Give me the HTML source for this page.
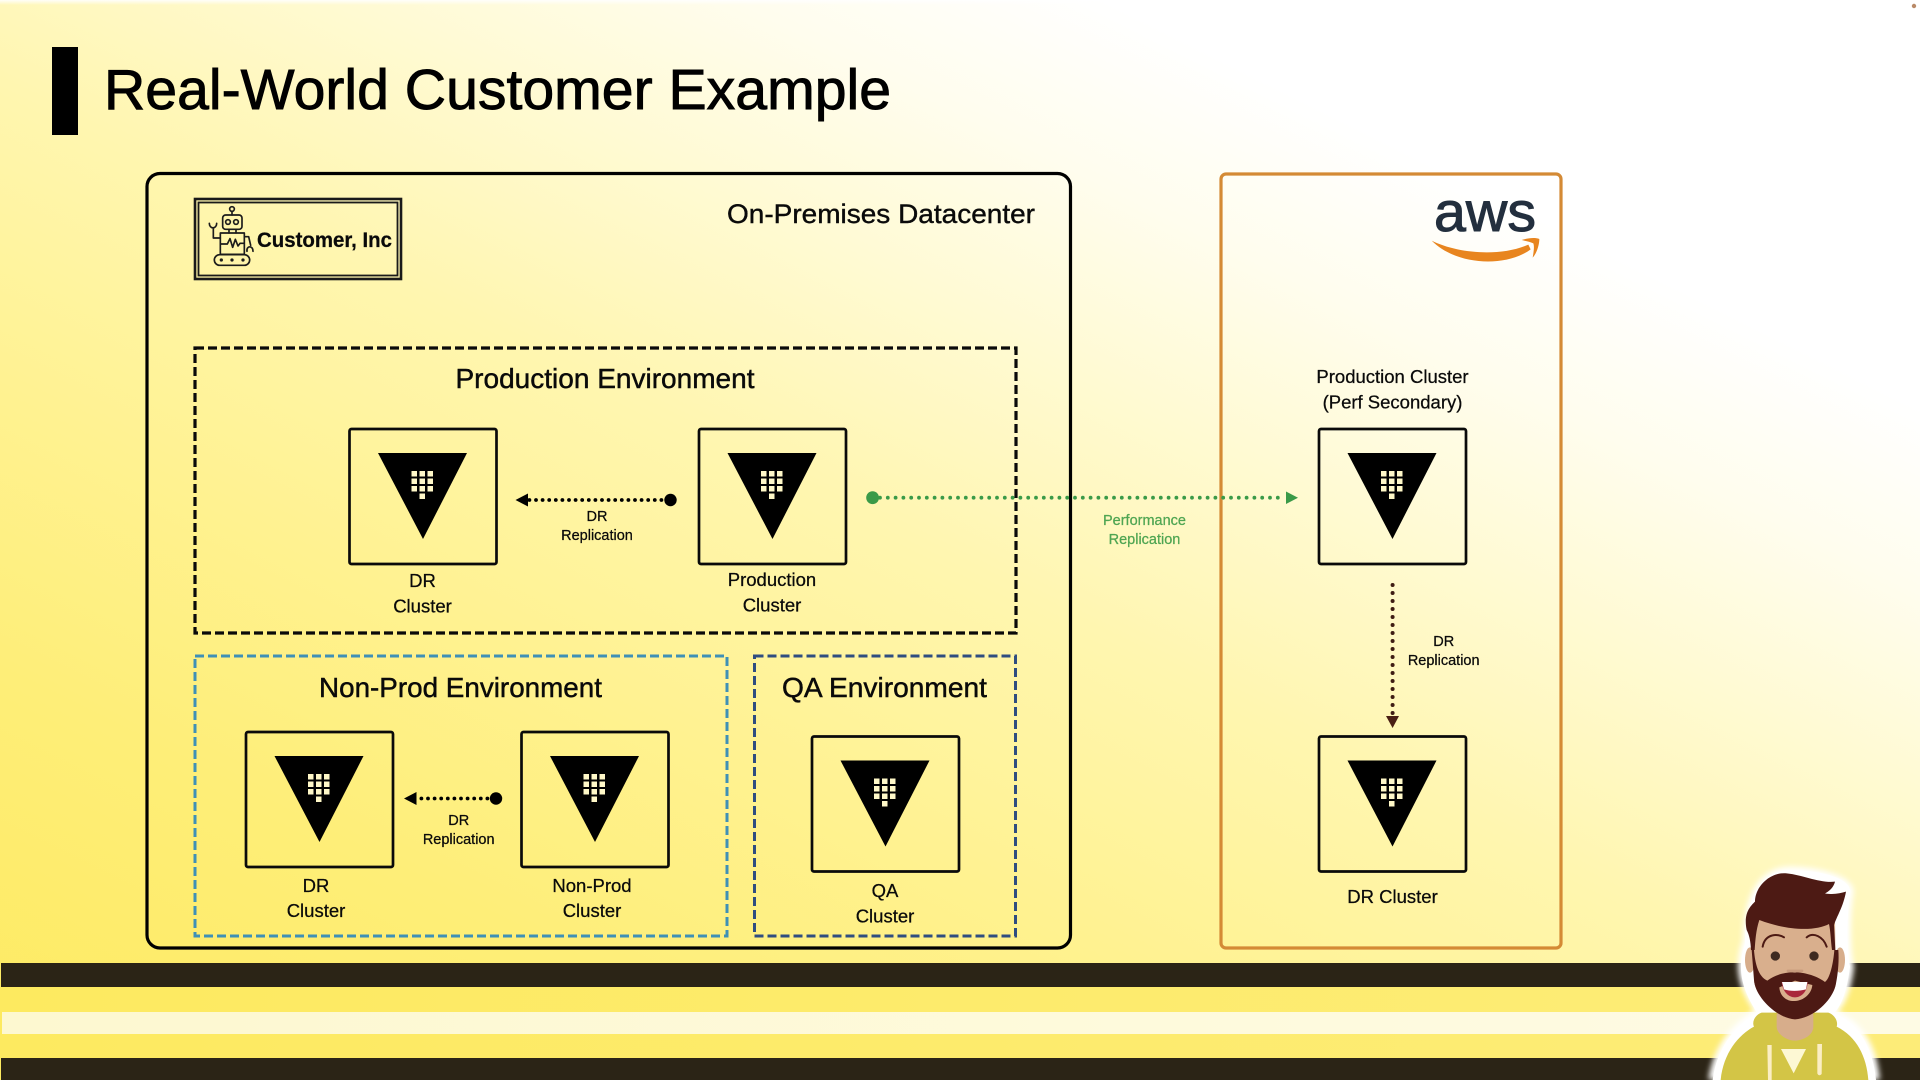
<!DOCTYPE html>
<html lang="en">
<head>
<meta charset="utf-8">
<title>Real-World Customer Example</title>
<style>
html,body{margin:0;padding:0;width:1920px;height:1080px;overflow:hidden;background:#fff}
svg{display:block;position:absolute;left:0;top:0}
#bg{position:absolute;left:0;top:0;width:1920px;height:1080px;background:linear-gradient(26.6deg,#fdea60 0%,#feee78 20%,#fff291 34%,#fff6b0 49%,#fffad2 61%,#fffdee 71%,#fff 80%)}
text{font-family:"Liberation Sans",sans-serif;fill:#0a0a0a;stroke:#0a0a0a;stroke-width:.25px}
.c{text-anchor:middle}
.l{font-size:18.5px}
.s{font-size:14.5px}
.h{font-size:28px}
</style>
</head>
<body>
<div id="bg"></div>
<svg width="1920" height="1080" viewBox="0 0 1920 1080" xmlns="http://www.w3.org/2000/svg">
<defs>
  <linearGradient id="yb" x1="0" x2="1" y1="0" y2="0"><stop offset="0" stop-color="#fdea60"/><stop offset="1" stop-color="#fdec78"/></linearGradient>
  <linearGradient id="pb" x1="0" x2="1" y1="0" y2="0"><stop offset="0" stop-color="#fdf8d0"/><stop offset="1" stop-color="#fefbe4"/></linearGradient>
  <linearGradient id="top" x1="0" x2="0" y1="0" y2="1"><stop offset="0" stop-color="#fff" stop-opacity=".9"/><stop offset="1" stop-color="#fff" stop-opacity="0"/></linearGradient>
  <filter id="glow" x="-20%" y="-20%" width="140%" height="140%"><feGaussianBlur stdDeviation="9"/></filter>
  <g id="vault">
    <rect x="0" y="0" width="147" height="135" rx="2" fill="none" stroke="#0a0a0a" stroke-width="2.7"/>
    <path d="M28.5 24H117.5L73.5 110Z" fill="#000"/>
    <g fill="#fff8c8">
      <rect x="62" y="42" width="5.5" height="5.5"/><rect x="70" y="42" width="5.5" height="5.5"/><rect x="78" y="42" width="5.5" height="5.5"/>
      <rect x="62" y="49.5" width="5.5" height="5.5"/><rect x="70" y="49.5" width="5.5" height="5.5"/><rect x="78" y="49.5" width="5.5" height="5.5"/>
      <rect x="62" y="57" width="5.5" height="5.5"/><rect x="70" y="57" width="5.5" height="5.5"/><rect x="78" y="57" width="5.5" height="5.5"/>
      <rect x="70" y="64.5" width="5.5" height="5.5"/>
    </g>
  </g>
</defs>

<rect x="0" y="0" width="1920" height="5" fill="url(#top)"/>
<circle cx="1914" cy="6" r="2.2" fill="#b98a68"/>

<!-- title -->
<rect x="52" y="47" width="26" height="88" fill="#000"/>
<text x="104" y="109" font-size="57" textLength="787" lengthAdjust="spacingAndGlyphs" style="stroke-width:.9px;fill:#000;stroke:#000">Real-World Customer Example</text>

<!-- bottom bars -->
<rect x="1" y="963" width="1919" height="24" fill="#2b2416"/>
<rect x="0" y="987" width="1920" height="71" fill="url(#yb)"/>
<rect x="2" y="1012" width="1918" height="22" fill="url(#pb)"/>
<rect x="1" y="1058" width="1919" height="22" fill="#2b2416"/>

<!-- outer containers -->
<rect x="147" y="173.5" width="923.5" height="774.5" rx="13" fill="none" stroke="#000" stroke-width="3.2"/>
<rect x="1221" y="174" width="340" height="774" rx="5" fill="none" stroke="#d48a35" stroke-width="3.2"/>

<!-- customer logo -->
<rect x="195" y="199" width="206" height="80" fill="none" stroke="#1a1a1a" stroke-width="2.6"/>
<rect x="198.5" y="202.5" width="199" height="73" fill="none" stroke="#1a1a1a" stroke-width="1.8"/>
<g transform="translate(130,160) scale(.33333)" fill="none" stroke="#1c1c1c" stroke-width="5" stroke-linecap="round" stroke-linejoin="round">
  <circle cx="306" cy="147" r="7"/><path d="M306 154V165"/>
  <rect x="278" y="165" width="58" height="43" rx="9"/>
  <circle cx="294" cy="186" r="7"/><circle cx="318" cy="186" r="7"/>
  <path d="M297 208V219M318 208V219"/>
  <rect x="271" y="219" width="72" height="64"/>
  <path d="M272 252H292L300 236L308 262L316 238L324 258L330 250H342"/>
  <path d="M271 234H250V205M238 190C238 208 260 208 260 190"/>
  <path d="M343 230H356L362 256M351 274C348 256 370 256 369 274"/>
  <rect x="253" y="284" width="106" height="32" rx="16"/>
  <circle cx="274" cy="300" r="2.4" fill="#1c1c1c"/><circle cx="306" cy="300" r="2.4" fill="#1c1c1c"/><circle cx="339" cy="300" r="2.4" fill="#1c1c1c"/>
</g>
<text x="257" y="247" font-size="21" font-weight="700" textLength="135" lengthAdjust="spacingAndGlyphs">Customer, Inc</text>

<text x="727" y="223" font-size="27" textLength="308" lengthAdjust="spacingAndGlyphs" style="stroke-width:.4px">On-Premises Datacenter</text>

<!-- environment frames -->
<rect x="195" y="348" width="821" height="285" fill="none" stroke="#0a0a0a" stroke-width="3.2" stroke-dasharray="9 4"/>
<rect x="195" y="656" width="532" height="280" fill="none" stroke="#3f90b6" stroke-width="3" stroke-dasharray="9 4"/>
<rect x="754.5" y="656" width="261" height="280" fill="none" stroke="#2f4d80" stroke-width="3" stroke-dasharray="9 4"/>

<text x="455.5" y="388" class="h" textLength="299" lengthAdjust="spacingAndGlyphs" style="stroke-width:.45px">Production Environment</text>
<text x="319" y="697" class="h" textLength="283" lengthAdjust="spacingAndGlyphs" style="stroke-width:.45px">Non-Prod Environment</text>
<text x="782" y="697" class="h" textLength="205" lengthAdjust="spacingAndGlyphs" style="stroke-width:.45px">QA Environment</text>

<!-- vault boxes -->
<use href="#vault" x="349.5" y="429"/>
<use href="#vault" x="699" y="429"/>
<use href="#vault" x="246" y="732"/>
<use href="#vault" x="521.5" y="732"/>
<use href="#vault" x="812" y="736.5"/>
<use href="#vault" x="1319" y="429"/>
<use href="#vault" x="1319" y="736.5"/>

<!-- connectors -->
<path d="M668 500H526" stroke="#000" stroke-width="3.8" stroke-linecap="round" stroke-dasharray="0 6.6" fill="none"/>
<circle cx="670.5" cy="500" r="6.2" fill="#000"/>
<path d="M515.5 500L528 493.5V506.5Z" fill="#000"/>

<path d="M494 798.5H416" stroke="#000" stroke-width="3.8" stroke-linecap="round" stroke-dasharray="0 6.6" fill="none"/>
<circle cx="496" cy="798.5" r="6.2" fill="#000"/>
<path d="M404 798.5L416.5 792V805Z" fill="#000"/>

<path d="M880 497.7H1284" stroke="#3a9a48" stroke-width="3.8" stroke-linecap="round" stroke-dasharray="0 7.8" fill="none"/>
<circle cx="872.6" cy="497.7" r="6.4" fill="#3a9a48"/>
<path d="M1298 497.7L1286 491.5V504Z" fill="#3a9a48"/>

<path d="M1392.6 585V716" stroke="#3f1d14" stroke-width="4" stroke-linecap="round" stroke-dasharray="0 8" fill="none"/>
<path d="M1392.6 728L1386 716H1399Z" fill="#4a1f14"/>

<!-- labels -->
<text class="l c" x="422.5" y="587">DR</text>
<text class="l c" x="422.5" y="612.5">Cluster</text>
<text class="l c" x="772" y="586">Production</text>
<text class="l c" x="772" y="611.5">Cluster</text>
<text class="l c" x="316" y="892">DR</text>
<text class="l c" x="316" y="917">Cluster</text>
<text class="l c" x="592" y="892">Non-Prod</text>
<text class="l c" x="592" y="917">Cluster</text>
<text class="l c" x="885" y="897">QA</text>
<text class="l c" x="885" y="922.5">Cluster</text>
<text class="l c" x="1392.5" y="383">Production Cluster</text>
<text class="l c" x="1392.5" y="408.5">(Perf Secondary)</text>
<text class="l c" x="1392.5" y="903">DR Cluster</text>

<text class="s c" x="597" y="521">DR</text>
<text class="s c" x="597" y="540">Replication</text>
<text class="s c" x="458.7" y="825">DR</text>
<text class="s c" x="458.7" y="844">Replication</text>
<text class="s c" x="1443.7" y="646">DR</text>
<text class="s c" x="1443.7" y="665">Replication</text>
<text class="s c" x="1144.5" y="525" style="fill:#4fa552;stroke:#4fa552">Performance</text>
<text class="s c" x="1144.5" y="544" style="fill:#4fa552;stroke:#4fa552">Replication</text>

<!-- aws logo -->
<text x="1434" y="231" font-size="56" textLength="102" lengthAdjust="spacingAndGlyphs" style="fill:#232f3e;stroke:#232f3e;stroke-width:1px">aws</text>
<g transform="translate(1200,160) scale(.33333)" fill="#e8851f">
  <path d="M695 242C770 280 900 292 985 254L992 268C920 322 770 318 695 242Z"/>
  <path d="M965 240C985 234 1005 232 1018 237C1018 255 1010 280 998 293C1002 270 1003 258 1000 250C990 245 975 243 965 240Z"/>
</g>

<!-- presenter -->
<g transform="translate(1680,850) scale(.33333)">
  <path d="M85 690C100 580 170 510 222 482C175 410 160 350 188 270C190 150 230 50 330 50C420 50 530 80 520 130C510 200 510 300 522 350C512 430 490 470 472 485C540 510 590 580 600 690Z" fill="#fff" filter="url(#glow)"/>
  <path d="M98 690C112 580 180 515 232 490C180 410 172 350 195 280C195 160 235 60 330 60C420 60 520 85 510 130C500 200 500 300 510 350C500 430 482 470 462 490C530 515 578 585 588 690Z" fill="#fff"/>
  <path d="M122 690C130 610 175 555 222 530C215 515 225 495 245 488H445C465 495 475 515 470 530C530 560 560 620 565 690Z" fill="#d3c546"/>
  <path d="M290 490H400V530C400 558 365 572 345 572C320 572 290 552 290 530Z" fill="#d7ad8b"/>
  <ellipse cx="210" cy="330" rx="15" ry="38" fill="#d7ad8b"/>
  <ellipse cx="480" cy="330" rx="15" ry="38" fill="#d7ad8b"/>
  <path d="M222 210H465L468 400C460 450 400 490 345 490C280 490 225 440 222 390Z" fill="#d9af8d"/>
  <path d="M200 240C190 190 210 170 225 155C225 110 270 65 320 70C370 75 420 100 465 95C460 115 445 125 435 130C460 135 480 130 498 125C490 170 470 200 462 225L466 300H456C452 270 452 245 447 222C410 242 330 245 238 210C228 240 226 270 224 300H213C212 275 208 255 200 240Z" fill="#4d1a14"/>
  <path d="M215 300L222 300C225 340 235 380 262 392C290 370 330 365 345 368C350 365 400 370 435 396C450 385 460 340 463 300H475C478 340 472 380 468 400C460 450 400 505 345 508C290 505 225 440 222 390Z" fill="#4d1a14"/>
  <path d="M298 412C300 440 322 455 345 453C370 452 395 432 397 405L345 392Z" fill="#d9af8d"/>
  <path d="M305 396H383C382 428 362 442 345 442C325 442 308 425 305 396Z" fill="#a9283c"/>
  <path d="M306 396H382L378 418C355 424 330 424 312 418Z" fill="#fff"/>
  <circle cx="286" cy="318" r="14" fill="#3e2a20"/>
  <circle cx="402" cy="318" r="14" fill="#3e2a20"/>
  <path d="M248 290C255 250 295 250 312 262M380 262C400 245 430 260 440 290" fill="none" stroke="#4d1a14" stroke-width="6" stroke-linecap="round"/>
  <rect x="320" y="359" width="50" height="7" rx="3" fill="#c89a7c"/>
  <path d="M262 585H275V690H264ZM412 582H426L425 672C420 678 414 676 412 670Z" fill="#fbeec4"/>
  <path d="M303 597H378L341 670Z" fill="#fdf8d4"/>
</g>
</svg>
</body>
</html>
